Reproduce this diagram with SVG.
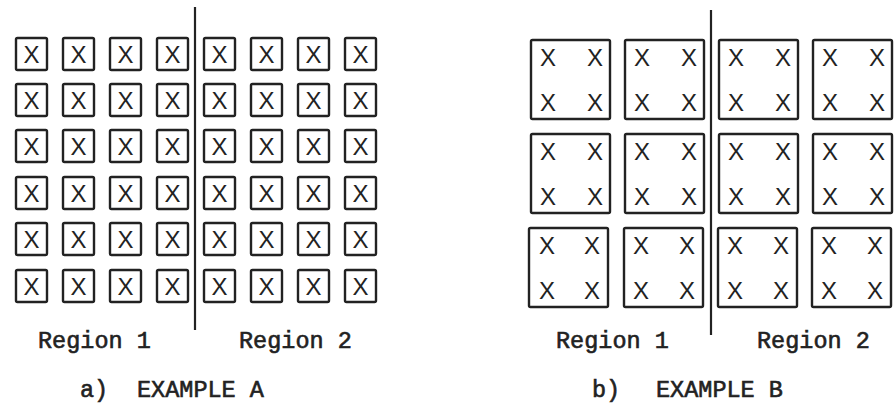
<svg xmlns="http://www.w3.org/2000/svg" width="895" height="403" viewBox="0 0 895 403">
<style>
.bx{fill:none;stroke:#222;stroke-width:2.4}
.x{font-family:"Liberation Sans",Arial,sans-serif;font-size:24px;fill:#222;text-anchor:middle}
.lb{font-family:"Liberation Mono","Courier New",monospace;font-size:23.5px;fill:#222;stroke:#222;stroke-width:0.6}
.dv{stroke:#222;stroke-width:2.2;fill:none}
</style>
<rect width="895" height="403" fill="#fff"/>
<g id="connectors">
<line class="dv" x1="195" y1="7" x2="195" y2="330"/>
<line class="dv" x1="711" y1="10" x2="711" y2="335"/>
</g>
<g id="exampleA">
<g id="a-r1c1"><rect class="bx" x="16" y="38" width="31" height="32" rx="1.5"/><text class="x" x="31.5" y="62.5">X</text></g>
<g id="a-r1c2"><rect class="bx" x="63" y="38" width="31" height="32" rx="1.5"/><text class="x" x="78.5" y="62.5">X</text></g>
<g id="a-r1c3"><rect class="bx" x="110" y="38" width="31" height="32" rx="1.5"/><text class="x" x="125.5" y="62.5">X</text></g>
<g id="a-r1c4"><rect class="bx" x="157" y="38" width="31" height="32" rx="1.5"/><text class="x" x="172.5" y="62.5">X</text></g>
<g id="a-r1c5"><rect class="bx" x="204" y="38" width="31" height="32" rx="1.5"/><text class="x" x="219.5" y="62.5">X</text></g>
<g id="a-r1c6"><rect class="bx" x="251" y="38" width="31" height="32" rx="1.5"/><text class="x" x="266.5" y="62.5">X</text></g>
<g id="a-r1c7"><rect class="bx" x="298" y="38" width="31" height="32" rx="1.5"/><text class="x" x="313.5" y="62.5">X</text></g>
<g id="a-r1c8"><rect class="bx" x="345" y="38" width="31" height="32" rx="1.5"/><text class="x" x="360.5" y="62.5">X</text></g>
<g id="a-r2c1"><rect class="bx" x="16" y="84" width="31" height="32" rx="1.5"/><text class="x" x="31.5" y="108.5">X</text></g>
<g id="a-r2c2"><rect class="bx" x="63" y="84" width="31" height="32" rx="1.5"/><text class="x" x="78.5" y="108.5">X</text></g>
<g id="a-r2c3"><rect class="bx" x="110" y="84" width="31" height="32" rx="1.5"/><text class="x" x="125.5" y="108.5">X</text></g>
<g id="a-r2c4"><rect class="bx" x="157" y="84" width="31" height="32" rx="1.5"/><text class="x" x="172.5" y="108.5">X</text></g>
<g id="a-r2c5"><rect class="bx" x="204" y="84" width="31" height="32" rx="1.5"/><text class="x" x="219.5" y="108.5">X</text></g>
<g id="a-r2c6"><rect class="bx" x="251" y="84" width="31" height="32" rx="1.5"/><text class="x" x="266.5" y="108.5">X</text></g>
<g id="a-r2c7"><rect class="bx" x="298" y="84" width="31" height="32" rx="1.5"/><text class="x" x="313.5" y="108.5">X</text></g>
<g id="a-r2c8"><rect class="bx" x="345" y="84" width="31" height="32" rx="1.5"/><text class="x" x="360.5" y="108.5">X</text></g>
<g id="a-r3c1"><rect class="bx" x="16" y="130" width="31" height="32" rx="1.5"/><text class="x" x="31.5" y="154.5">X</text></g>
<g id="a-r3c2"><rect class="bx" x="63" y="130" width="31" height="32" rx="1.5"/><text class="x" x="78.5" y="154.5">X</text></g>
<g id="a-r3c3"><rect class="bx" x="110" y="130" width="31" height="32" rx="1.5"/><text class="x" x="125.5" y="154.5">X</text></g>
<g id="a-r3c4"><rect class="bx" x="157" y="130" width="31" height="32" rx="1.5"/><text class="x" x="172.5" y="154.5">X</text></g>
<g id="a-r3c5"><rect class="bx" x="204" y="130" width="31" height="32" rx="1.5"/><text class="x" x="219.5" y="154.5">X</text></g>
<g id="a-r3c6"><rect class="bx" x="251" y="130" width="31" height="32" rx="1.5"/><text class="x" x="266.5" y="154.5">X</text></g>
<g id="a-r3c7"><rect class="bx" x="298" y="130" width="31" height="32" rx="1.5"/><text class="x" x="313.5" y="154.5">X</text></g>
<g id="a-r3c8"><rect class="bx" x="345" y="130" width="31" height="32" rx="1.5"/><text class="x" x="360.5" y="154.5">X</text></g>
<g id="a-r4c1"><rect class="bx" x="16" y="177" width="31" height="32" rx="1.5"/><text class="x" x="31.5" y="201.5">X</text></g>
<g id="a-r4c2"><rect class="bx" x="63" y="177" width="31" height="32" rx="1.5"/><text class="x" x="78.5" y="201.5">X</text></g>
<g id="a-r4c3"><rect class="bx" x="110" y="177" width="31" height="32" rx="1.5"/><text class="x" x="125.5" y="201.5">X</text></g>
<g id="a-r4c4"><rect class="bx" x="157" y="177" width="31" height="32" rx="1.5"/><text class="x" x="172.5" y="201.5">X</text></g>
<g id="a-r4c5"><rect class="bx" x="204" y="177" width="31" height="32" rx="1.5"/><text class="x" x="219.5" y="201.5">X</text></g>
<g id="a-r4c6"><rect class="bx" x="251" y="177" width="31" height="32" rx="1.5"/><text class="x" x="266.5" y="201.5">X</text></g>
<g id="a-r4c7"><rect class="bx" x="298" y="177" width="31" height="32" rx="1.5"/><text class="x" x="313.5" y="201.5">X</text></g>
<g id="a-r4c8"><rect class="bx" x="345" y="177" width="31" height="32" rx="1.5"/><text class="x" x="360.5" y="201.5">X</text></g>
<g id="a-r5c1"><rect class="bx" x="16" y="223" width="31" height="32" rx="1.5"/><text class="x" x="31.5" y="247.5">X</text></g>
<g id="a-r5c2"><rect class="bx" x="63" y="223" width="31" height="32" rx="1.5"/><text class="x" x="78.5" y="247.5">X</text></g>
<g id="a-r5c3"><rect class="bx" x="110" y="223" width="31" height="32" rx="1.5"/><text class="x" x="125.5" y="247.5">X</text></g>
<g id="a-r5c4"><rect class="bx" x="157" y="223" width="31" height="32" rx="1.5"/><text class="x" x="172.5" y="247.5">X</text></g>
<g id="a-r5c5"><rect class="bx" x="204" y="223" width="31" height="32" rx="1.5"/><text class="x" x="219.5" y="247.5">X</text></g>
<g id="a-r5c6"><rect class="bx" x="251" y="223" width="31" height="32" rx="1.5"/><text class="x" x="266.5" y="247.5">X</text></g>
<g id="a-r5c7"><rect class="bx" x="298" y="223" width="31" height="32" rx="1.5"/><text class="x" x="313.5" y="247.5">X</text></g>
<g id="a-r5c8"><rect class="bx" x="345" y="223" width="31" height="32" rx="1.5"/><text class="x" x="360.5" y="247.5">X</text></g>
<g id="a-r6c1"><rect class="bx" x="16" y="270" width="31" height="32" rx="1.5"/><text class="x" x="31.5" y="294.5">X</text></g>
<g id="a-r6c2"><rect class="bx" x="63" y="270" width="31" height="32" rx="1.5"/><text class="x" x="78.5" y="294.5">X</text></g>
<g id="a-r6c3"><rect class="bx" x="110" y="270" width="31" height="32" rx="1.5"/><text class="x" x="125.5" y="294.5">X</text></g>
<g id="a-r6c4"><rect class="bx" x="157" y="270" width="31" height="32" rx="1.5"/><text class="x" x="172.5" y="294.5">X</text></g>
<g id="a-r6c5"><rect class="bx" x="204" y="270" width="31" height="32" rx="1.5"/><text class="x" x="219.5" y="294.5">X</text></g>
<g id="a-r6c6"><rect class="bx" x="251" y="270" width="31" height="32" rx="1.5"/><text class="x" x="266.5" y="294.5">X</text></g>
<g id="a-r6c7"><rect class="bx" x="298" y="270" width="31" height="32" rx="1.5"/><text class="x" x="313.5" y="294.5">X</text></g>
<g id="a-r6c8"><rect class="bx" x="345" y="270" width="31" height="32" rx="1.5"/><text class="x" x="360.5" y="294.5">X</text></g>
<text class="lb" x="38" y="348">Region 1</text>
<text class="lb" x="239" y="348">Region 2</text>
<text class="lb" x="80" y="397">a)</text>
<text class="lb" x="137" y="397">EXAMPLE A</text>
</g>
<g id="exampleB">
<g id="b-r1c1"><rect class="bx" x="531" y="40" width="79" height="79" rx="1.5"/><text class="x" x="548" y="65.5">X</text><text class="x" x="595" y="65.5">X</text><text class="x" x="548" y="110.5">X</text><text class="x" x="595" y="110.5">X</text></g>
<g id="b-r1c2"><rect class="bx" x="625" y="40" width="79" height="79" rx="1.5"/><text class="x" x="642" y="65.5">X</text><text class="x" x="689" y="65.5">X</text><text class="x" x="642" y="110.5">X</text><text class="x" x="689" y="110.5">X</text></g>
<g id="b-r1c3"><rect class="bx" x="719" y="40" width="79" height="79" rx="1.5"/><text class="x" x="736" y="65.5">X</text><text class="x" x="783" y="65.5">X</text><text class="x" x="736" y="110.5">X</text><text class="x" x="783" y="110.5">X</text></g>
<g id="b-r1c4"><rect class="bx" x="813" y="40" width="79" height="79" rx="1.5"/><text class="x" x="830" y="65.5">X</text><text class="x" x="877" y="65.5">X</text><text class="x" x="830" y="110.5">X</text><text class="x" x="877" y="110.5">X</text></g>
<g id="b-r2c1"><rect class="bx" x="531" y="134" width="79" height="79" rx="1.5"/><text class="x" x="548" y="159.5">X</text><text class="x" x="595" y="159.5">X</text><text class="x" x="548" y="204.5">X</text><text class="x" x="595" y="204.5">X</text></g>
<g id="b-r2c2"><rect class="bx" x="625" y="134" width="79" height="79" rx="1.5"/><text class="x" x="642" y="159.5">X</text><text class="x" x="689" y="159.5">X</text><text class="x" x="642" y="204.5">X</text><text class="x" x="689" y="204.5">X</text></g>
<g id="b-r2c3"><rect class="bx" x="719" y="134" width="79" height="79" rx="1.5"/><text class="x" x="736" y="159.5">X</text><text class="x" x="783" y="159.5">X</text><text class="x" x="736" y="204.5">X</text><text class="x" x="783" y="204.5">X</text></g>
<g id="b-r2c4"><rect class="bx" x="813" y="134" width="79" height="79" rx="1.5"/><text class="x" x="830" y="159.5">X</text><text class="x" x="877" y="159.5">X</text><text class="x" x="830" y="204.5">X</text><text class="x" x="877" y="204.5">X</text></g>
<g id="b-r3c1"><rect class="bx" x="529" y="228" width="79" height="79" rx="1.5"/><text class="x" x="547" y="253.5">X</text><text class="x" x="592" y="253.5">X</text><text class="x" x="547" y="298.5">X</text><text class="x" x="592" y="298.5">X</text></g>
<g id="b-r3c2"><rect class="bx" x="624" y="228" width="79" height="79" rx="1.5"/><text class="x" x="641" y="253.5">X</text><text class="x" x="687" y="253.5">X</text><text class="x" x="641" y="298.5">X</text><text class="x" x="687" y="298.5">X</text></g>
<g id="b-r3c3"><rect class="bx" x="718" y="228" width="79" height="79" rx="1.5"/><text class="x" x="735" y="253.5">X</text><text class="x" x="781" y="253.5">X</text><text class="x" x="735" y="298.5">X</text><text class="x" x="781" y="298.5">X</text></g>
<g id="b-r3c4"><rect class="bx" x="812" y="228" width="79" height="79" rx="1.5"/><text class="x" x="829" y="253.5">X</text><text class="x" x="875" y="253.5">X</text><text class="x" x="829" y="298.5">X</text><text class="x" x="875" y="298.5">X</text></g>
<text class="lb" x="556" y="348">Region 1</text>
<text class="lb" x="757" y="348">Region 2</text>
<text class="lb" x="592" y="397">b)</text>
<text class="lb" x="656" y="397">EXAMPLE B</text>
</g>
</svg>
